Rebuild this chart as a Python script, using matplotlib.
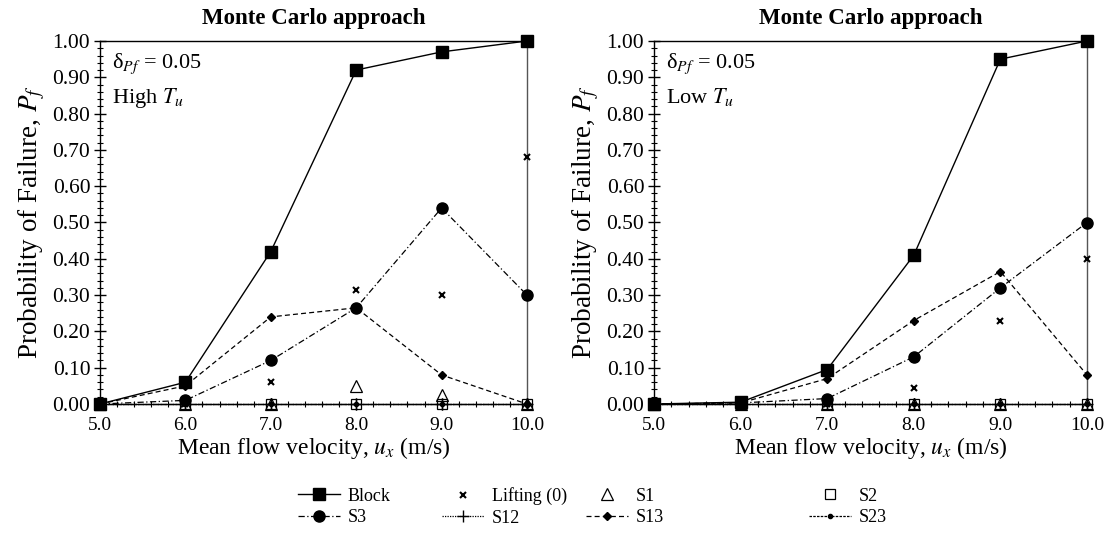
import matplotlib
matplotlib.use('Agg')
import matplotlib.pyplot as plt
from matplotlib.ticker import MultipleLocator, FormatStrFormatter
from matplotlib.lines import Line2D

plt.rcParams['font.family'] = ['Liberation Serif', 'DejaVu Serif']
plt.rcParams['mathtext.fontset'] = 'stix'

velocidade = [5.0, 6.0, 7.0, 8.0, 9.0, 10.0]

# painel esquerdo - High Tu
alto_block = [0.0, 0.06, 0.42, 0.92, 0.97, 1.00]
alto_lifting = [0.0, 0.0, 0.06, 0.315, 0.30, 0.68]
alto_s1 = [0.0, 0.0, 0.0, 0.05, 0.025, 0.0]
alto_s2 = [0.0, 0.0, 0.0, 0.0, 0.0, 0.0]
alto_s3 = [0.0, 0.01, 0.12, 0.265, 0.54, 0.30]
alto_s12 = [0.0, 0.0, 0.0, 0.0, 0.0, 0.0]
alto_s13 = [0.0, 0.05, 0.24, 0.265, 0.08, 0.0]
alto_s23 = [0.0, 0.0, 0.0, 0.0, 0.0, 0.0]

# painel direito - Low Tu
baixo_block = [0.0, 0.005, 0.095, 0.41, 0.95, 1.00]
baixo_lifting = [0.0, 0.0, 0.0, 0.045, 0.23, 0.40]
baixo_s1 = [0.0, 0.0, 0.0, 0.0, 0.0, 0.0]
baixo_s2 = [0.0, 0.0, 0.0, 0.0, 0.0, 0.0]
baixo_s3 = [0.0, 0.003, 0.015, 0.13, 0.32, 0.50]
baixo_s12 = [0.0, 0.0, 0.0, 0.0, 0.0, 0.0]
baixo_s13 = [0.0, 0.003, 0.07, 0.23, 0.365, 0.08]
baixo_s23 = [0.0, 0.0, 0.0, 0.0, 0.0, 0.0]

nomes = ['Block', 'Lifting (0)', 'S1', 'S2', 'S3', 'S12', 'S13', 'S23']

estilos = {
    'Block': dict(ls='-', marker='s', ms=8, mfc='k', lw=1.0),
    'Lifting (0)': dict(ls='none', marker='x', ms=5, mew=1.5),
    'S1': dict(ls='none', marker='^', ms=8, mfc='none', mew=0.9),
    'S2': dict(ls='none', marker='s', ms=7.5, mfc='none', mew=0.9),
    'S3': dict(ls=(0, (5, 2, 1, 2)), marker='o', ms=8, mfc='k', lw=0.9),
    'S12': dict(ls=(0, (1, 1)), marker='+', ms=8, lw=0.9, mew=1.0),
    'S13': dict(ls=(0, (4, 2.5)), marker='D', ms=4.5, mfc='k', lw=0.9),
    'S23': dict(ls=(0, (2, 1)), marker='o', ms=3, mfc='k', lw=0.9),
}

def desenha(ax, series, texto):
    for nome, valores in zip(nomes, series):
        ax.plot(velocidade, valores, color='k', clip_on=False, zorder=3, **estilos[nome])
    ax.set_xlim(5.0, 10.0)
    ax.set_ylim(0.0, 1.0)
    ax.xaxis.set_major_locator(MultipleLocator(1.0))
    ax.xaxis.set_minor_locator(MultipleLocator(0.2))
    ax.yaxis.set_major_locator(MultipleLocator(0.1))
    ax.yaxis.set_minor_locator(MultipleLocator(0.02))
    ax.xaxis.set_major_formatter(FormatStrFormatter('%.1f'))
    ax.yaxis.set_major_formatter(FormatStrFormatter('%.2f'))
    ax.tick_params(which='major', direction='inout', length=8, width=1.0, pad=3)
    ax.tick_params(which='minor', direction='inout', length=4, width=0.8)
    ax.tick_params(axis='x', which='major', labelsize=14, pad=5)
    ax.tick_params(axis='y', which='major', labelsize=15.5)
    for s in ax.spines.values():
        s.set_linewidth(1.0)
    ax.spines['right'].set_color('#555555')
    ax.set_title('Monte Carlo approach', fontsize=16.5, fontweight='bold', pad=12)
    ax.set_xlabel('Mean flow velocity, $u_x$ (m/s)', fontsize=17, labelpad=1)
    ax.set_ylabel('Probability of Failure, $P_f$', fontsize=19.5, labelpad=4)
    ax.text(0.028, 0.97, 'δ$_{Pf}$ = 0.05', transform=ax.transAxes, fontsize=16, va='top')
    ax.text(0.028, 0.875, texto, transform=ax.transAxes, fontsize=16, va='top')

W, H = 1107, 533
fig = plt.figure(figsize=(W / 100, H / 100), dpi=100)
ax1 = fig.add_axes([100 / W, 1 - 404 / H, 427 / W, 363 / H])
ax2 = fig.add_axes([654 / W, 1 - 404 / H, 433 / W, 363 / H])

desenha(ax1, [alto_block, alto_lifting, alto_s1, alto_s2, alto_s3, alto_s12, alto_s13, alto_s23],
        'High $T_u$')
desenha(ax2, [baixo_block, baixo_lifting, baixo_s1, baixo_s2, baixo_s3, baixo_s12, baixo_s13, baixo_s23],
        'Low $T_u$')

# legenda em 4 colunas, cada uma posicionada separadamente
colunas = [['Block', 'S3'], ['Lifting (0)', 'S12'], ['S1', 'S13'], ['S2', 'S23']]
inicio_x = [298, 442, 586, 809]
for col, x0 in zip(colunas, inicio_x):
    hs = [Line2D([], [], color='k', **estilos[n]) for n in col]
    fig.legend(hs, col, loc='center left', bbox_to_anchor=(x0 / W, 1 - 507 / H),
               frameon=False, fontsize=13, handlelength=2.3, labelspacing=0.25,
               handletextpad=0.45, borderpad=0, borderaxespad=0)

fig.savefig('out.png', dpi=100)
